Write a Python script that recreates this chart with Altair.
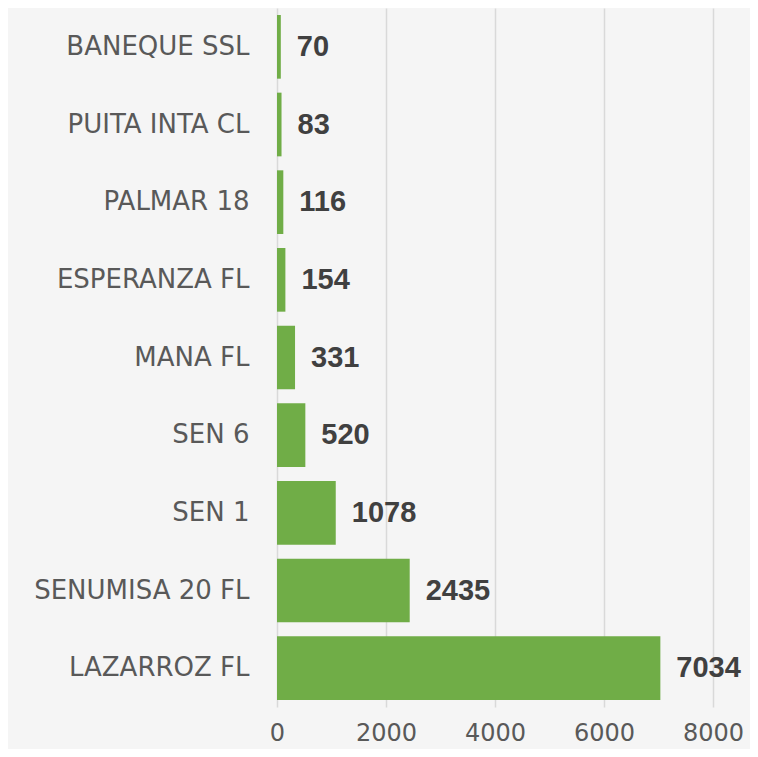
import altair as alt
import pandas as pd

categories = ["BANEQUE SSL", "PUITA INTA CL", "PALMAR 18", "ESPERANZA FL", "MANA FL",
              "SEN 6", "SEN 1", "SENUMISA 20 FL", "LAZARROZ FL"]
values = [70, 83, 116, 154, 331, 520, 1078, 2435, 7034]
x_ticks = [0, 2000, 4000, 6000, 8000]

df = pd.DataFrame({"name": categories, "value": values})

base = alt.Chart(df).encode(
    y=alt.Y("name:N", sort=categories, title=None,
            scale=alt.Scale(paddingInner=0.18, paddingOuter=0.09),
            axis=alt.Axis(labelFont="DejaVu Sans", labelFontSize=26, labelColor="#595959",
                          labelPadding=28, ticks=False, domain=False, grid=False,
                          labelLimit=300)),
)

bars = base.mark_bar(color="#70ad47").encode(
    x=alt.X("value:Q", title=None,
            scale=alt.Scale(domain=[0, 8000], nice=False),
            axis=alt.Axis(values=x_ticks, format="d", labelFont="DejaVu Sans", labelFontSize=24,
                          labelColor="#595959", labelPadding=14, ticks=False, domain=False,
                          grid=True, gridColor="#d9d9d9", gridWidth=1.5,
                          labelFlush=False))
)

labels = base.mark_text(align="left", baseline="middle", dx=16, font="Liberation Sans",
                        fontSize=29, fontWeight="bold", color="#404040").encode(
    x=alt.X("value:Q"),
    text=alt.Text("value:Q")
)

chart = alt.layer(bars, labels).properties(
    width=436, height=699,
    autosize=alt.AutoSizeParams(type="none"),
    padding={"left": 269, "top": 0, "right": 37, "bottom": 42},
    background="#f5f5f5",
).configure_view(stroke=None)

chart.save("out.html", embed_options={"renderer": "svg", "actions": False})
